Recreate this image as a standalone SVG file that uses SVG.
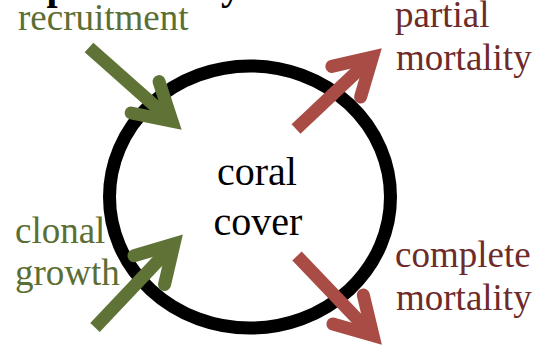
<svg xmlns="http://www.w3.org/2000/svg" width="535" height="346" viewBox="0 0 535 346">
  <style>
    .lbl { font-family: "Liberation Serif", "Times New Roman", serif; font-size: 37px; }
    .green { fill: #5b6e33; }
    .red { fill: #6e2b2a; }
    .center { font-family: "Liberation Serif", "Times New Roman", serif; font-size: 40px; fill: #000; text-anchor: middle; }
    .title { font-family: "Liberation Serif", "Times New Roman", serif; font-size: 40px; font-weight: bold; fill: #000; }
    .shaft { fill: none; stroke-width: 13; stroke-linecap: butt; }
    .head { fill: none; stroke-width: 13; stroke-linecap: round; stroke-linejoin: miter; stroke-miterlimit: 4; }
    .g { stroke: #5f7336; }
    .r { stroke: #a84c45; }
  </style>
  <rect width="535" height="346" fill="#fff"/>
  <text class="title" x="2" y="-1.5">Population dynamics</text>

  <g id="coral-cover">
    <ellipse cx="250" cy="197" rx="140.5" ry="131" fill="none" stroke="#000" stroke-width="13"/>
    <text class="center" x="257" y="185">coral</text>
    <text class="center" x="258" y="235">cover</text>
  </g>

  <g id="recruitment">
    <text class="lbl green" x="18" y="30">recruitment</text>
  </g>
  <g id="clonal-growth">
    <text class="lbl green" x="15" y="243">clonal</text>
    <text class="lbl green" x="15" y="285">growth</text>
  </g>
  <g id="partial-mortality">
    <text class="lbl red" x="395" y="27">partial</text>
    <text class="lbl red" x="396" y="70">mortality</text>
  </g>
  <g id="complete-mortality">
    <text class="lbl red" x="395" y="267">complete</text>
    <text class="lbl red" x="396" y="310">mortality</text>
  </g>

  <g id="connectors">
    <g transform="translate(89,47.5) rotate(41.6)">
      <path class="shaft g" d="M0,0 L111,0"/>
      <path class="head g" d="M75,-21 L111,0 L75,21"/>
    </g>
    <g transform="translate(95,327.5) rotate(-46.6)">
      <path class="shaft g" d="M0,0 L115,0"/>
      <path class="head g" d="M79,-21 L115,0 L79,21"/>
    </g>
    <g transform="translate(296,129) rotate(-43.3)">
      <path class="shaft r" d="M0,0 L105,0"/>
      <path class="head r" d="M69,-21 L105,0 L69,21"/>
    </g>
    <g transform="translate(297,256) rotate(46.3)">
      <path class="shaft r" d="M0,0 L110,0"/>
      <path class="head r" d="M74,-21 L110,0 L74,21"/>
    </g>
  </g>
</svg>
